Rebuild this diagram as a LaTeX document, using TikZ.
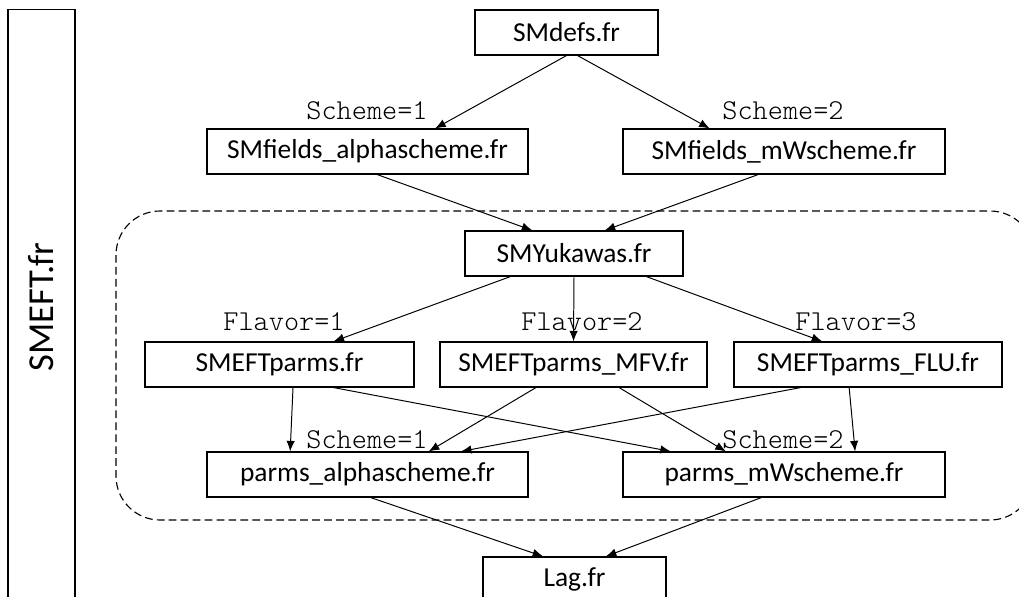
\documentclass[tikz,border=0pt]{standalone}
\usepackage{fontspec}
\setmainfont{Carlito}
\newfontfamily\monofont{Latin Modern Mono Light}
\usetikzlibrary{arrows.meta,calc}
\begin{document}
\begin{tikzpicture}[x=0.025cm,y=-0.025cm,
  file/.style={draw, line width=0.8pt, minimum height=1.125cm, inner sep=0pt, font=\fontsize{19.5}{23}\selectfont},
  opt/.style={font=\monofont\fontsize{20.5}{22}\selectfont, inner sep=0pt},
  arr/.style={-{Latex[length=7.5pt,width=6pt]}, line width=0.7pt}]
\useasboundingbox (0,0) rectangle (1019,597);
\node[draw, line width=0.8pt, rotate=90, minimum width=14.85cm, minimum height=1.675cm, font=\fontsize{26}{30}\selectfont] (smeft) at (41.5,307){SMEFT.fr};
\draw[dashed, dash pattern=on 5.5pt off 3pt, line width=0.8pt, rounded corners=1.1cm] (116,211) rectangle (1034,520);
\node[file, minimum width=4.575cm] (defs) at (566.5,32.5){SMdefs.fr};
\node[file, minimum width=8.025cm] (fldA) at (367.5,151.5){SMfields\_alphascheme.fr};
\node[file, minimum width=8.05cm] (fldM) at (784,151.5){SMfields\_mWscheme.fr};
\node[opt] (schA) at (367,111){Scheme=1};
\node[opt] (schM) at (783,111){Scheme=2};
\node[file, minimum width=5.45cm] (yuk) at (574,253.5){SMYukawas.fr};
\node[file, minimum width=6.725cm] (eft1) at (279.5,364.5){SMEFTparms.fr};
\node[file, minimum width=6.675cm] (eft2) at (573.5,364.5){SMEFTparms\_MFV.fr};
\node[file, minimum width=6.7cm] (eft3) at (868,364.5){SMEFTparms\_FLU.fr};
\node[opt] (flv1) at (284,322){Flavor=1};
\node[opt] (flv2) at (582,322){Flavor=2};
\node[opt] (flv3) at (856,322){Flavor=3};
\node[file, minimum width=8.025cm] (parA) at (367.5,474.5){parms\_alphascheme.fr};
\node[file, minimum width=8.05cm] (parM) at (784,474.5){parms\_mWscheme.fr};
\node[opt] (schA2) at (367,440){Scheme=1};
\node[opt] (schM2) at (783,440){Scheme=2};
\node[file, minimum width=4.575cm] (lag) at (574.5,579.5){Lag.fr};
% SMdefs -> SMfields
\draw[arr] ($(defs.south west)!0.5!(defs.south east)$) -- ($(fldA.north west)!0.71!(fldA.north east)$);
\draw[arr] ($(defs.south west)!0.56!(defs.south east)$) -- ($(fldM.north west)!0.27!(fldM.north east)$);
% SMfields -> SMYukawas
\draw[arr] ($(fldA.south west)!0.53!(fldA.south east)$) -- ($(yuk.north west)!0.31!(yuk.north east)$);
\draw[arr] ($(fldM.south west)!0.42!(fldM.south east)$) -- ($(yuk.north west)!0.64!(yuk.north east)$);
% SMYukawas -> SMEFTparms
\draw[arr] ($(yuk.south west)!0.21!(yuk.south east)$) -- ($(eft1.north west)!0.70!(eft1.north east)$);
\draw[arr] (yuk.south) -- (eft2.north);
\draw[arr] ($(yuk.south west)!0.83!(yuk.south east)$) -- ($(eft3.north west)!0.33!(eft3.north east)$);
% SMEFTparms -> parms
\draw[arr] ($(eft1.south west)!0.55!(eft1.south east)$) -- ($(parA.north west)!0.26!(parA.north east)$);
\draw[arr] ($(eft1.south west)!0.70!(eft1.south east)$) -- ($(parM.north west)!0.15!(parM.north east)$);
\draw[arr] ($(eft2.south west)!0.36!(eft2.south east)$) -- ($(parA.north west)!0.69!(parA.north east)$);
\draw[arr] ($(eft2.south west)!0.67!(eft2.south east)$) -- ($(parM.north west)!0.32!(parM.north east)$);
\draw[arr] ($(eft3.south west)!0.25!(eft3.south east)$) -- ($(parA.north west)!0.79!(parA.north east)$);
\draw[arr] ($(eft3.south west)!0.43!(eft3.south east)$) -- ($(parM.north west)!0.72!(parM.north east)$);
% parms -> Lag
\draw[arr] ($(parA.south west)!0.51!(parA.south east)$) -- ($(lag.north west)!0.33!(lag.north east)$);
\draw[arr] ($(parM.south west)!0.43!(parM.south east)$) -- ($(lag.north west)!0.67!(lag.north east)$);
\end{tikzpicture}
\end{document}
